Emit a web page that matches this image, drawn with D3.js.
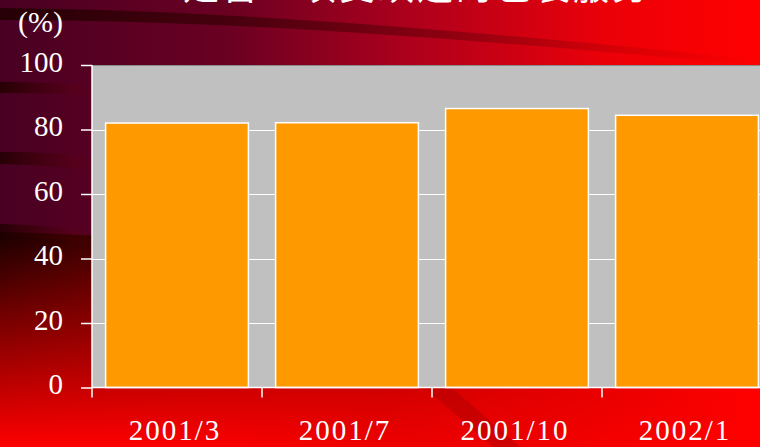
<!DOCTYPE html>
<html>
<head>
<meta charset="utf-8">
<script src="https://cdn.jsdelivr.net/npm/d3@7"></script>
<style>
html,body{margin:0;padding:0;background:#7a0010;overflow:hidden;}
svg{display:block;}
</style>
</head>
<body>
<svg id="chart" width="760" height="447"></svg>
<script>
const categories = ["2001/3", "2001/7", "2001/10", "2002/1"];
const values = [82.0, 82.1, 86.5, 84.4];
const yTicks = [0, 20, 40, 60, 80, 100];
const titleText = "是否一项受欢迎的包装服务";
const unitLabel = "(%)";

const W = 760, H = 447;
const svg = d3.select("#chart");
const defs = svg.append("defs");

const gH = defs.append("linearGradient").attr("id","gH").attr("x1","0").attr("x2","1").attr("y1","0").attr("y2","0");
gH.append("stop").attr("offset","0").attr("stop-color","#480022");
gH.append("stop").attr("offset","0.3").attr("stop-color","#6a0022");
gH.append("stop").attr("offset","0.55").attr("stop-color","#b0001c");
gH.append("stop").attr("offset","0.8").attr("stop-color","#ec0008");
gH.append("stop").attr("offset","1").attr("stop-color","#ff0000");

const gV = defs.append("linearGradient").attr("id","gV").attr("x1","0").attr("x2","0").attr("y1","0").attr("y2","1");
gV.append("stop").attr("offset","0").attr("stop-color","#180000");
gV.append("stop").attr("offset","0.45").attr("stop-color","#800000");
gV.append("stop").attr("offset","1").attr("stop-color","#ff0000");

const gFade = defs.append("linearGradient").attr("id","gFade").attr("x1","0").attr("x2","1").attr("y1","0").attr("y2","0");
gFade.append("stop").attr("offset","0").attr("stop-color","#ff0000").attr("stop-opacity","0");
gFade.append("stop").attr("offset","0.5").attr("stop-color","#e00000").attr("stop-opacity","0.55");
gFade.append("stop").attr("offset","1").attr("stop-color","#ff0000").attr("stop-opacity","1");

const gSw = defs.append("linearGradient").attr("id","gSw").attr("x1","0").attr("x2","1").attr("y1","0").attr("y2","0");
gSw.append("stop").attr("offset","0").attr("stop-color","#200000").attr("stop-opacity","0.85");
gSw.append("stop").attr("offset","0.6").attr("stop-color","#400000").attr("stop-opacity","0.35");
gSw.append("stop").attr("offset","1").attr("stop-color","#800000").attr("stop-opacity","0");

svg.append("rect").attr("width",W).attr("height",H).attr("fill","url(#gH)");
svg.append("path")
  .attr("d","M0,232 C150,236 300,250 430,270 L760,300 L760,447 L0,447 Z")
  .attr("fill","url(#gV)");
svg.append("path")
  .attr("d","M0,232 C150,236 300,250 430,270 L760,300 L760,447 L0,447 Z")
  .attr("fill","url(#gFade)");
const sw = [
  "M0,8 C200,10 420,25 760,60 L760,66 C420,34 200,20 0,20 Z",
  "M0,82 C40,82 70,84 92,86 L92,96 C70,94 40,93 0,93 Z",
  "M0,152 C40,152 70,154 92,157 L92,171 C70,168 40,165 0,164 Z",
  "M0,224 C40,225 70,228 92,232 L92,245 C70,240 40,237 0,236 Z"
];
svg.selectAll("path.sw").data(sw).join("path").attr("class","sw").attr("d",d=>d).attr("fill","url(#gSw)");
svg.append("path").attr("d","M425,388 L452,388 L520,447 L493,447 Z").attr("fill","#b00000").attr("opacity",0.5);

const plot = {left:92, top:65, right:772, bottom:387.5};
const x = d3.scaleBand().domain(categories).range([plot.left, plot.right]).paddingInner(0.16).paddingOuter(0.08);
const y = d3.scaleLinear().domain([0,100]).range([plot.bottom, plot.top]);

svg.append("rect").attr("x",plot.left).attr("y",plot.top).attr("width",plot.right-plot.left).attr("height",plot.bottom-plot.top).attr("fill","#c0c0c0");
svg.append("line").attr("x1",plot.left).attr("x2",plot.right).attr("y1",plot.top+0.5).attr("y2",plot.top+0.5).attr("stroke","#8a8a8a").attr("stroke-width",1);

svg.append("g").selectAll("line").data(yTicks.filter(t=>t>0 && t<100)).join("line")
  .attr("x1",plot.left).attr("x2",plot.right)
  .attr("y1",d=>Math.round(y(d))+0.5).attr("y2",d=>Math.round(y(d))+0.5)
  .attr("stroke","#ffffff").attr("stroke-width",1);

svg.append("g").selectAll("rect").data(values).join("rect")
  .attr("x",(d,i)=>x(categories[i]))
  .attr("y",d=>y(d))
  .attr("width",x.bandwidth())
  .attr("height",d=>y(0)-y(d))
  .attr("fill","#ff9900")
  .attr("stroke","#ffffff").attr("stroke-width",1.5);

const yAxis = d3.axisLeft(y).tickValues(yTicks).tickSize(11).tickPadding(18);
const gy = svg.append("g").attr("transform",`translate(${plot.left},0)`).call(yAxis);
gy.select(".domain").attr("stroke","#ffffff").attr("stroke-width",1.5).attr("d",`M0,${plot.top}V${plot.bottom}`);
gy.selectAll(".tick line").attr("stroke","#ffffff").attr("stroke-width",1.5);
gy.selectAll(".tick text").attr("fill","#ffffff")
  .style("font-family","'Liberation Serif','DejaVu Serif',serif").style("font-size","29px")
  .attr("dy","0.22em").attr("x",-29);

const half = (x.step()-x.bandwidth())/2;
const boundaries = categories.map(c=>x(c)-half);
svg.append("line").attr("x1",plot.left).attr("x2",plot.right).attr("y1",plot.bottom).attr("y2",plot.bottom).attr("stroke","#ffffff").attr("stroke-width",1.5);
svg.append("g").selectAll("line").data(boundaries).join("line")
  .attr("x1",d=>d).attr("x2",d=>d).attr("y1",plot.bottom).attr("y2",plot.bottom+10)
  .attr("stroke","#ffffff").attr("stroke-width",1.5);
svg.append("g").selectAll("text").data(categories).join("text")
  .attr("x",d=>x(d)+x.bandwidth()/2-2)
  .attr("y",440)
  .attr("text-anchor","middle")
  .attr("fill","#ffffff")
  .style("font-family","'Liberation Serif','DejaVu Serif',serif").style("font-size","29px")
  .style("letter-spacing","2px")
  .text(d=>d);

svg.append("text").attr("x",18).attr("y",32).attr("fill","#ffffff")
  .style("font-family","'Liberation Serif','DejaVu Serif',serif").style("font-size","30px")
  .text(unitLabel);

svg.append("text").attr("x",417).attr("y",0).attr("text-anchor","middle").attr("fill","#ffffff")
  .style("font-family","'Noto Sans CJK SC',sans-serif").style("font-size","36px")
  .style("letter-spacing","3px")
  .text(titleText);
</script>
</body>
</html>
